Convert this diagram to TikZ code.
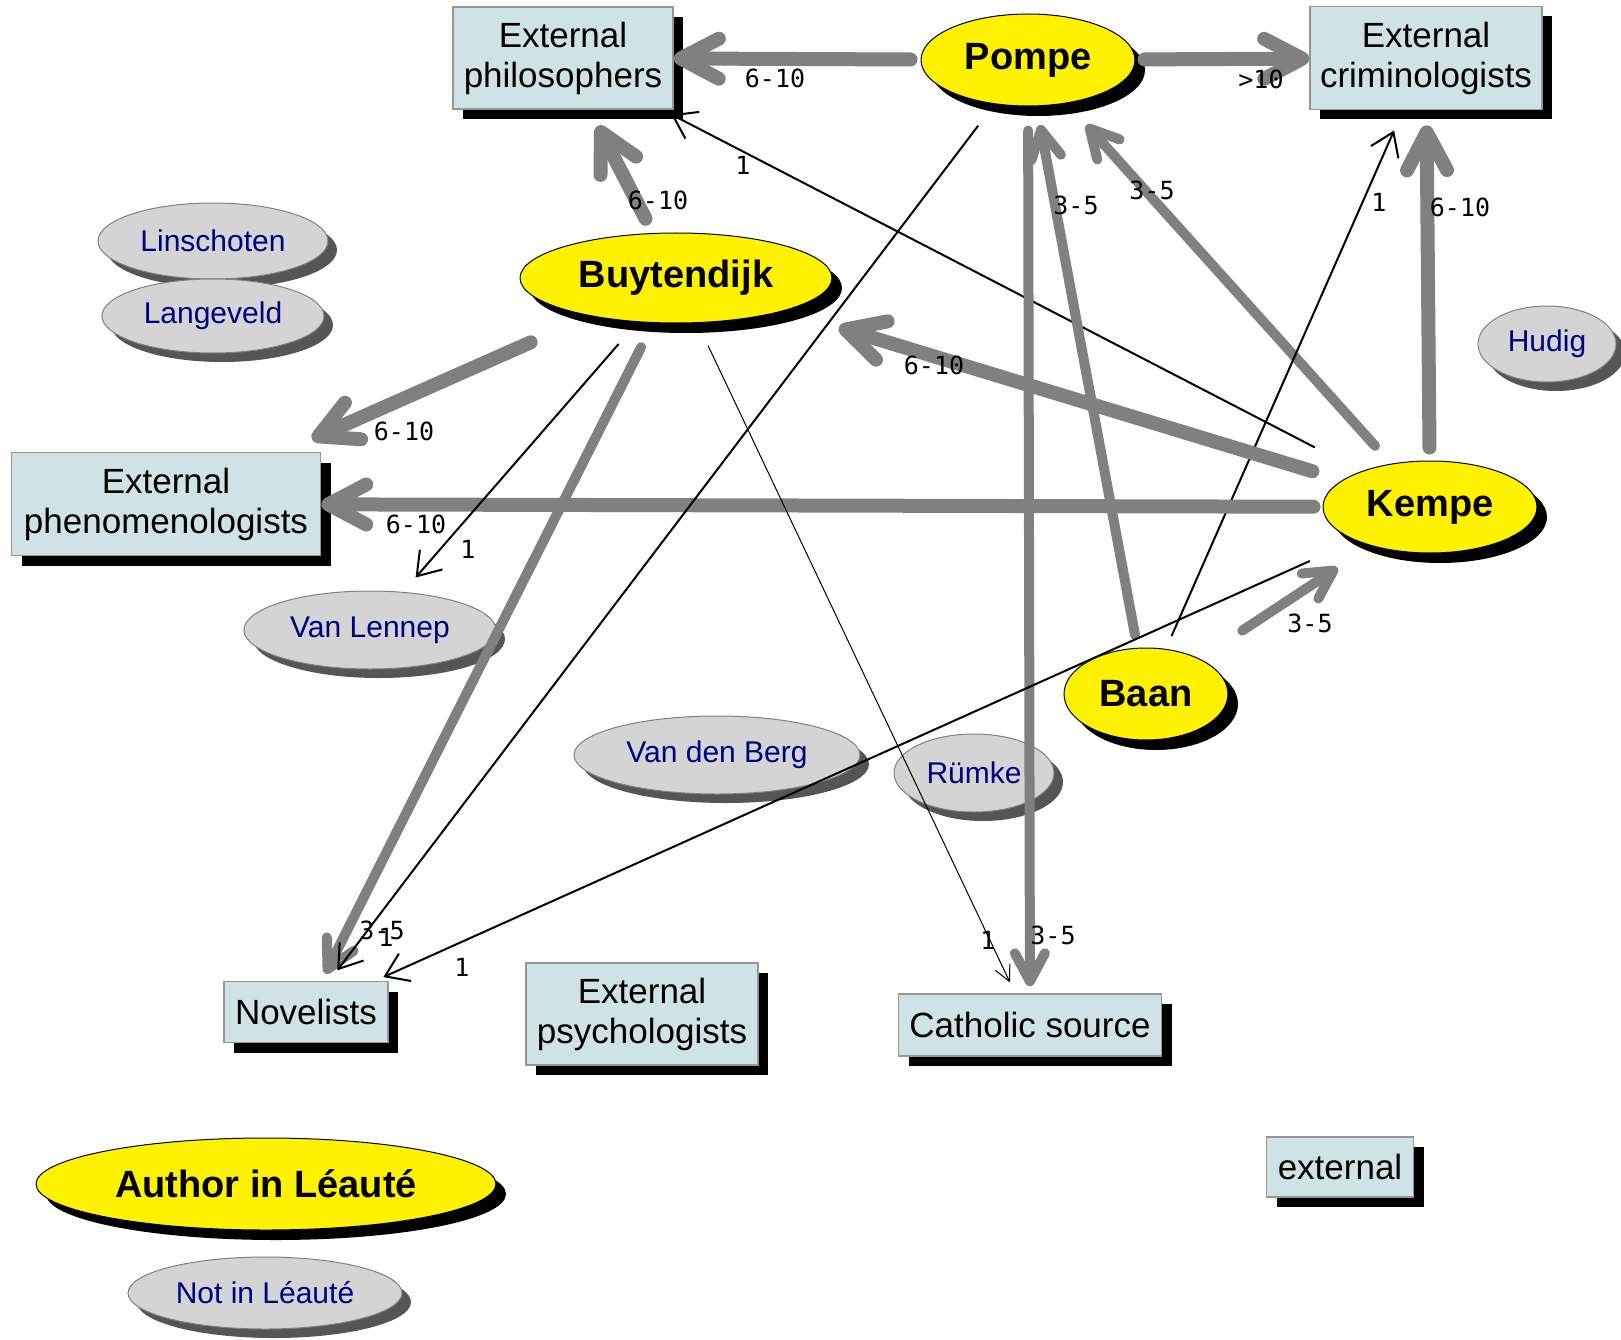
\documentclass[tikz,border=0pt]{standalone}
\usepackage{fontspec}
\setmainfont{Liberation Sans}
\newfontfamily\freqfont{DejaVu Sans Mono}
\usetikzlibrary{arrows.meta,shapes.geometric,shadows}
\definecolor{boxfill}{RGB}{207,227,230}
\definecolor{boxline}{RGB}{150,150,150}
\definecolor{linkgray}{RGB}{128,128,128}
\definecolor{othergray}{RGB}{212,212,212}
\definecolor{othershade}{RGB}{85,85,85}
\definecolor{othertext}{RGB}{0,0,128}

\begin{document}
\begin{tikzpicture}[x=1pt,y=-1pt,
    ext/.style={draw=boxline,line width=1.5pt,fill=boxfill,inner sep=0pt,align=center,
      font=\fontsize{35}{40}\selectfont,
      general shadow={fill=black,shadow xshift=10pt,shadow yshift=-10pt}},
    author/.style={ellipse,draw,line width=1pt,fill=yellow,inner sep=0pt,
      font=\fontsize{38}{44}\selectfont\bfseries,
      general shadow={fill=black,shadow xshift=10pt,shadow yshift=-10pt}},
    other/.style={ellipse,draw=linkgray,line width=1pt,fill=othergray,inner sep=0pt,
      text=othertext,font=\fontsize{30}{36}\selectfont,
      general shadow={fill=othershade,shadow xshift=9pt,shadow yshift=-9pt}},
    heavylink/.style={draw=linkgray,line width=14pt,line cap=round,
      -{Straight Barb[length=38pt,width=40pt,round]}},
    midlink/.style={draw=linkgray,line width=10pt,line cap=round,
      -{Straight Barb[length=28pt,width=30pt,round]}},
    lightlink/.style={line width=2pt,-{Straight Barb[length=22pt,width=30pt]}},
    hairlink/.style={line width=1pt,-{Straight Barb[length=16pt,width=16pt]}},
    freq/.style={font=\freqfont\fontsize{25}{25}\selectfont,inner sep=0pt}]
    \useasboundingbox (0,0) rectangle (1621,1340);

    \node[ext,minimum width=220pt,minimum height=102pt] (philo) at (563,58) {External\\philosophers};
    \node[ext,minimum width=232pt,minimum height=103pt] (crim) at (1426,58) {External\\criminologists};
    \node[ext,minimum width=309pt,minimum height=103pt] (phen) at (166,504) {External\\phenomenologists};
    \node[ext,minimum width=164pt,minimum height=61pt] (novel) at (306,1012) {Novelists};
    \node[ext,minimum width=232pt,minimum height=102pt] (psych) at (642,1014) {External\\psychologists};
    \node[ext,minimum width=263pt,minimum height=62pt] (cath) at (1030,1025) {Catholic source};
    \node[ext,minimum width=147pt,minimum height=60pt] (keyext) at (1340,1167) {external};

    \node[author,minimum width=214pt,minimum height=92pt] (pompe) at (1028,60) {Pompe};
    \node[author,minimum width=312pt,minimum height=90pt] (buyt) at (676,278) {Buytendijk};
    \node[author,minimum width=214pt,minimum height=92pt] (kempe) at (1430,507) {Kempe};
    \node[author,minimum width=164pt,minimum height=92pt] (baan) at (1146,694) {Baan};
    \node[author,minimum width=460pt,minimum height=92pt] (keyauthor) at (266,1184) {Author in Léauté};

    \node[other,minimum width=230pt,minimum height=76pt] (lins) at (213,241) {Linschoten};
    \node[other,minimum width=222pt,minimum height=74pt] (lang) at (213,316) {Langeveld};
    \node[other,minimum width=138pt,minimum height=76pt] (hudig) at (1547,344) {Hudig};
    \node[other,minimum width=252pt,minimum height=78pt] (lennep) at (370,630) {Van Lennep};
    \node[other,minimum width=286pt,minimum height=78pt] (berg) at (717,755) {Van den Berg};
    \node[other,minimum width=160pt,minimum height=78pt] (rumke) at (974,773) {Rümke};
    \node[other,minimum width=274pt,minimum height=72pt] (keyother) at (265,1293) {Not in Léauté};

    \draw[heavylink,shorten <=10pt] (pompe) -- (philo);
    \draw[heavylink,shorten <=9pt] (pompe) -- (crim);
    \draw[heavylink,shorten <=16pt,shorten >=18pt] (buyt) -- (philo);
    \draw[lightlink,shorten <=52pt,shorten >=10pt] (kempe) -- (philo);
    \draw[heavylink,shorten <=13pt,shorten >=15pt] (kempe) -- (crim);
    \draw[midlink,shorten <=24pt,shorten >=29pt] (kempe) -- (pompe);
    \draw[midlink,shorten <=13pt,shorten >=19pt] (baan) -- (pompe);
    \draw[midlink,shorten <=24pt,shorten >=7pt] (pompe) -- (cath);
    \draw[lightlink,shorten <=14pt,shorten >=22pt] (baan) -- (crim);
    \draw[heavylink,shorten <=31pt,shorten >=57pt] (kempe) -- (buyt);
    \draw[heavylink,shorten <=9pt] (kempe) -- (phen);
    \draw[lightlink,shorten <=50pt,shorten >=9pt] (kempe) -- (novel);
    \draw[heavylink,shorten <=65pt,shorten >=31pt] (buyt) -- (phen);
    \draw[lightlink,shorten <=29pt,shorten >=19pt] (buyt) -- (lennep);
    \draw[midlink,shorten <=27pt,shorten >=8pt] (buyt) -- (novel);
    \draw[hairlink,shorten <=25pt,shorten >=12pt] (buyt) -- (cath);
    \draw[lightlink,shorten <=27pt,shorten >=13pt] (pompe) -- (novel);
    \draw[midlink,shorten <=51pt,shorten >=40pt] (baan) -- (kempe);

    \node[freq] (pphil) at (775,78) {6-10};
    \node[freq] (pcrim) at (1261,79) {>10};
    \node[freq] (bphil) at (658,200) {6-10};
    \node[freq] (kphil) at (743,165) {1};
    \node[freq] (kcrim) at (1460,207) {6-10};
    \node[freq] (acrim) at (1379,202) {1};
    \node[freq] (kpomp) at (1152,190) {3-5};
    \node[freq] (apomp) at (1076,205) {3-5};
    \node[freq] (kbuyt) at (934,365) {6-10};
    \node[freq] (bphen) at (404,431) {6-10};
    \node[freq] (kphen) at (416,524) {6-10};
    \node[freq] (blenn) at (468,549) {1};
    \node[freq] (akemp) at (1310,623) {3-5};
    \node[freq] (bnove) at (382,930) {3-5};
    \node[freq] (pnove) at (386,937) {1};
    \node[freq] (knove) at (462,967) {1};
    \node[freq] (bcath) at (988,940) {1};
    \node[freq] (pcath) at (1053,935) {3-5};
  \end{tikzpicture}
\end{document}
